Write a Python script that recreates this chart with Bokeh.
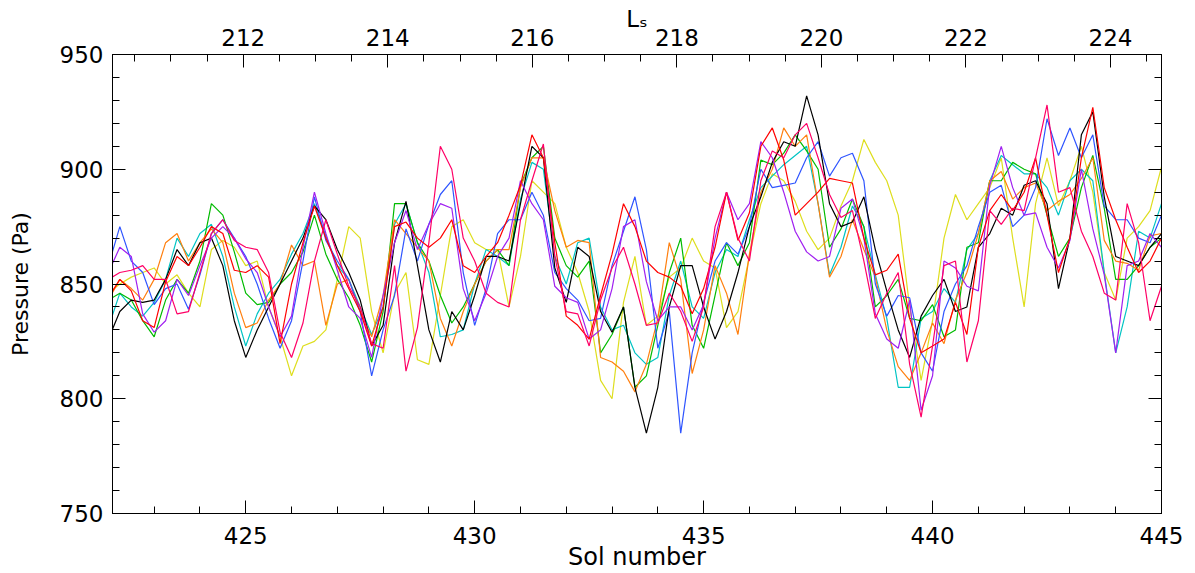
from bokeh.plotting import figure
from bokeh.models import Range1d, LinearAxis, SingleIntervalTicker, CustomJSTickFormatter
from bokeh.embed import file_html
from bokeh.resources import INLINE

# sampling grid (sol number, every quarter sol)
sol = [422.0 + 0.25 * i for i in range(93)]

black = [826, 838, 843, 842, 843, 852, 865, 858, 868, 870, 858, 834, 818, 830, 840, 850, 860, 870, 884, 878, 865, 855, 843, 823, 832, 868, 886, 858, 830, 816, 838,
         830, 845, 862, 862, 860, 885, 910, 905, 857, 842, 866, 862, 838, 829, 840, 805, 785, 805, 840, 858, 858, 840, 826, 838, 855, 875, 888, 903, 912, 910, 932,
         915, 885, 875, 877, 888, 865, 847, 830, 818, 836, 845, 852, 838, 840, 866, 872, 883, 880, 893, 895, 885, 848, 870, 915, 925, 888, 862, 860, 858, 866, 872]
blue = [858, 875, 860, 855, 841, 848, 850, 839, 854, 872, 878, 870, 862, 850, 835, 822, 834, 860, 888, 869, 860, 852, 838, 810, 830, 845, 874, 860, 876, 889, 895,
        855, 832, 848, 872, 878, 878, 890, 880, 855, 848, 843, 834, 835, 858, 873, 888, 865, 822, 838, 785, 820, 842, 860, 868, 863, 875, 900, 892, 893, 894, 905,
        912, 897, 905, 907, 895, 850, 836, 845, 844, 820, 812, 838, 850, 858, 875, 890, 893, 875, 880, 892, 922, 906, 918, 905, 915, 884, 878, 878, 870, 868, 880]
cyan = [831, 846, 840, 836, 842, 852, 870, 862, 872, 876, 862, 840, 823, 837, 846, 852, 863, 872, 885, 871, 858, 852, 840, 828, 840, 876, 885, 868, 855, 827, 828,
        830, 850, 865, 862, 858, 887, 903, 900, 862, 850, 868, 870, 840, 830, 832, 820, 815, 818, 845, 860, 840, 835, 855, 865, 862, 878, 892, 897, 902, 906, 910,
        885, 854, 866, 884, 875, 854, 835, 805, 805, 835, 838, 848, 842, 865, 872, 895, 906, 902, 898, 898, 892, 880, 895, 900, 895, 855, 820, 840, 873, 870, 885]
green = [843, 846, 843, 834, 827, 843, 852, 846, 860, 885, 880, 864, 846, 841, 842, 850, 855, 864, 880, 863, 852, 844, 832, 816, 838, 885, 885, 868, 860, 845, 833,
         840, 850, 860, 865, 858, 893, 905, 910, 870, 858, 853, 860, 820, 828, 840, 805, 810, 832, 855, 870, 832, 822, 845, 868, 858, 868, 904, 902, 907, 915, 908,
         900, 866, 874, 887, 875, 840, 845, 852, 835, 834, 841, 827, 830, 866, 868, 895, 895, 903, 900, 898, 880, 862, 870, 892, 906, 883, 852, 852, 858, 866, 870]
orange = [843, 852, 848, 843, 852, 868, 872, 860, 868, 874, 868, 846, 831, 833, 843, 850, 867, 858, 860, 832, 850, 852, 838, 827, 845, 878, 872, 866, 860, 835, 823,
          838, 850, 860, 865, 865, 892, 905, 905, 882, 866, 869, 868, 818, 816, 812, 803, 815, 835, 868, 852, 811, 830, 858, 846, 828, 863, 890, 900, 918, 910, 915,
          885, 853, 862, 878, 865, 853, 830, 814, 808, 820, 833, 824, 843, 855, 872, 895, 899, 887, 892, 894, 882, 886, 889, 896, 905, 869, 860, 859, 856, 871, 872]
red = [844, 852, 847, 834, 831, 851, 862, 858, 866, 875, 872, 856, 855, 858, 853, 824, 850, 868, 884, 870, 858, 848, 838, 823, 840, 875, 877, 870, 866, 870, 878,
       858, 855, 862, 868, 880, 893, 915, 905, 868, 836, 832, 826, 845, 863, 885, 875, 860, 855, 853, 849, 837, 848, 866, 890, 869, 881, 910, 918, 904, 880, 885,
       890, 896, 895, 894, 870, 854, 856, 863, 835, 820, 823, 826, 842, 828, 866, 882, 889, 882, 890, 905, 880, 855, 870, 905, 927, 892, 878, 866, 855, 860, 870]
pink = [852, 855, 856, 858, 852, 852, 837, 838, 855, 872, 878, 869, 866, 865, 855, 829, 818, 833, 860, 878, 863, 849, 840, 824, 822, 858, 812, 831, 868, 910, 900,
        870, 860, 846, 842, 840, 878, 895, 911, 862, 838, 837, 823, 843, 857, 866, 850, 832, 833, 846, 838, 825, 840, 875, 890, 870, 860, 895, 908, 905, 915, 920,
        905, 889, 879, 882, 860, 835, 846, 855, 815, 792, 823, 858, 860, 816, 834, 882, 876, 883, 882, 905, 928, 890, 892, 873, 862, 846, 843, 885, 868, 834, 849]
purple = [855, 866, 862, 837, 829, 834, 852, 845, 858, 870, 875, 870, 861, 855, 840, 827, 836, 866, 890, 872, 856, 840, 835, 818, 845, 868, 882, 865, 876, 885, 883,
          848, 834, 846, 862, 870, 895, 885, 878, 849, 844, 842, 826, 830, 848, 875, 878, 851, 834, 840, 840, 830, 841, 870, 890, 878, 885, 912, 905, 890, 873, 864,
          860, 862, 883, 887, 870, 837, 826, 822, 843, 795, 810, 860, 857, 849, 847, 893, 910, 892, 880, 881, 866, 857, 869, 900, 874, 854, 820, 858, 860, 872, 866]
yellow = [846, 850, 853, 855, 857, 850, 854, 846, 840, 865, 869, 866, 858, 860, 840, 827, 810, 823, 825, 830, 852, 875, 870, 838, 820, 846, 855, 817, 815, 845, 875,
          878, 868, 865, 865, 840, 862, 895, 890, 885, 866, 855, 838, 808, 800, 842, 862, 832, 836, 853, 857, 870, 860, 857, 831, 838, 862, 885, 898, 895, 886, 873,
          865, 870, 884, 895, 913, 903, 895, 880, 840, 808, 834, 870, 889, 878, 885, 892, 905, 870, 840, 885, 905, 884, 895, 910, 890, 855, 843, 870, 875, 882, 901]

series = [
    (yellow, "#dede1e"),
    (cyan, "#00c4c4"),
    (green, "#00bb00"),
    (orange, "#ff7f0e"),
    (blue, "#2f55ff"),
    (black, "#000000"),
    (purple, "#a020f0"),
    (red, "#ff0000"),
    (pink, "#ff0066"),
]

ls_lo, ls_hi = 210.191, 224.706

p = figure(width=1191, height=573, output_backend="svg", toolbar_location=None,
           x_range=Range1d(422.09, 445.0), y_range=Range1d(750, 950),
           x_axis_location=None, y_axis_location=None,
           min_border_left=112, min_border_right=30, min_border_top=54, min_border_bottom=59)
p.grid.visible = False
p.outline_line_color = "black"
p.outline_line_width = 1
p.extra_x_ranges = {"ls": Range1d(ls_lo, ls_hi)}

FONT = "DejaVu Sans"
FS = "23px"

def style(ax):
    ax.major_tick_in = 13
    ax.major_tick_out = 0
    ax.minor_tick_in = 7
    ax.minor_tick_out = 0
    ax.axis_line_color = "black"
    ax.major_tick_line_color = "black"
    ax.minor_tick_line_color = "black"
    ax.major_label_text_font = FONT
    ax.major_label_text_font_size = FS
    ax.major_label_text_color = "black"
    ax.axis_label_text_font = FONT
    ax.axis_label_text_font_size = FS
    ax.axis_label_text_font_style = "normal"
    ax.axis_label_text_color = "black"

bottom = LinearAxis(ticker=SingleIntervalTicker(interval=5, num_minor_ticks=5), axis_label="Sol number")
style(bottom)
bottom.axis_label_text_font_size = "24px"
bottom.major_label_text_line_height = 0.9
bottom.axis_label_text_line_height = 0.9
bottom.major_label_standoff = 13
bottom.axis_label_standoff = -4
p.add_layout(bottom, "below")

left = LinearAxis(ticker=SingleIntervalTicker(interval=50, num_minor_ticks=5), axis_label="Pressure (Pa)")
style(left)
left.axis_label_text_font_size = "22px"
left.major_label_standoff = 9
left.axis_label_standoff = 24
p.add_layout(left, "left")

top = LinearAxis(x_range_name="ls", ticker=SingleIntervalTicker(interval=2, num_minor_ticks=4),
                 axis_label="L\u209b")
style(top)
top.axis_label_text_font_size = "23px"
top.major_label_standoff = 9
top.axis_label_standoff = -6
p.add_layout(top, "above")

right = LinearAxis(ticker=SingleIntervalTicker(interval=50, num_minor_ticks=5),
                   formatter=CustomJSTickFormatter(code="return ''"))
style(right)
right.major_label_standoff = 0
p.add_layout(right, "right")

for vals, col in series:
    p.line(sol, vals, line_color=col, line_width=1.2)

open("out.html", "w").write(file_html(p, INLINE))
